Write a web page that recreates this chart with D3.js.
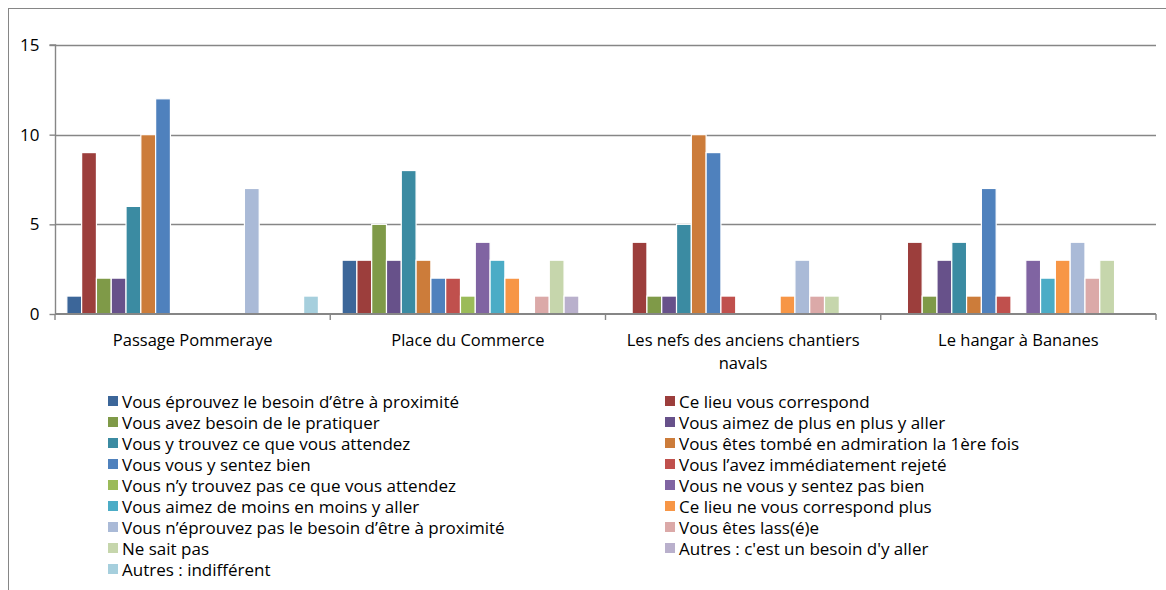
<!DOCTYPE html>
<html><head><meta charset="utf-8">
<script src="https://cdn.jsdelivr.net/npm/d3@7/dist/d3.min.js"></script>
<style>
html,body{margin:0;padding:0;background:#fff;}
svg text{font-family:"Open Sans","Liberation Sans",Arial,sans-serif;fill:#000;}
</style></head>
<body><svg id="c" width="1166" height="590"></svg>
<script>
const categories = ["Passage Pommeraye","Place du Commerce","Les nefs des anciens chantiers navals","Le hangar à Bananes"];
const seriesNames = [
 "Vous éprouvez le besoin d’être à proximité",
 "Ce lieu vous correspond",
 "Vous avez besoin de le pratiquer",
 "Vous aimez de plus en plus y aller",
 "Vous y trouvez ce que vous attendez",
 "Vous êtes tombé en admiration  la 1ère fois",
 "Vous vous y sentez bien",
 "Vous l’avez immédiatement  rejeté",
 "Vous n’y trouvez pas ce que vous attendez",
 "Vous ne vous y sentez pas bien",
 "Vous aimez de moins en moins y aller",
 "Ce lieu ne vous correspond plus",
 "Vous n’éprouvez pas le besoin d’être à proximité",
 "Vous êtes lass(é)e",
 "Ne sait pas",
 "Autres : c'est un besoin d'y aller",
 "Autres : indifférent"
];
const colors = ["#3C6699","#9C3E3C","#7F9A48","#67518A","#3B8BA2","#CC7C3A","#4F81BD","#C0504D","#9BBB59","#8064A2","#4BACC6","#F79646","#AABAD7","#DBA9A8","#C6D6AC","#B9B0CC","#A6CFDD"];
// values per series: [Passage, Place, Nefs, Hangar]
const vPassage = [1,9,2,2,6,10,12,0,0,0,0,0,7,0,0,0,1];
const vPlace   = [3,3,5,3,8,3,2,2,1,4,3,2,0,1,3,1,0];
const vNefs    = [0,4,1,1,5,10,9,1,0,0,0,1,3,1,1,0,0];
const vHangar  = [0,4,1,3,4,1,7,1,0,3,2,3,4,2,3,0,0];
const yTicks = [0,5,10,15];

const groupValues = [vPassage, vPlace, vNefs, vHangar];
const svg = d3.select("#c");
const gray = "#868686";

// outer frame
svg.append("rect").attr("x",8.5).attr("y",8.5).attr("width",1200).attr("height",700)
  .attr("fill","none").attr("stroke",gray).attr("stroke-width",1);

const x0 = d3.scaleBand().domain(categories).range([55,1156]).padding(0);
const x1 = d3.scaleBand().domain(d3.range(seriesNames.length)).range([0,x0.bandwidth()]).paddingInner(0).paddingOuter(0.8);
const y = d3.scaleLinear().domain([0,15]).range([314,45]);

// gridlines
svg.append("g").selectAll("line").data(yTicks.filter(d=>d>0)).join("line")
  .attr("x1",55).attr("x2",1156).attr("y1",d=>Math.round(y(d))+0.5).attr("y2",d=>Math.round(y(d))+0.5)
  .attr("stroke",gray).attr("stroke-width",1.4);

// bars
const gs = svg.append("g").selectAll("g").data(categories).join("g")
  .attr("transform",(d)=>`translate(${x0(d)},0)`);
gs.selectAll("rect").data((d,i)=>groupValues[i].map((v,j)=>({v,j}))).join("rect")
  .filter(d=>d.v>0)
  .attr("x",d=>x1(d.j)).attr("width",x1.bandwidth())
  .attr("y",d=>y(d.v)).attr("height",d=>y(0)-y(d.v))
  .attr("fill",d=>colors[d.j]).attr("stroke","#fff").attr("stroke-width",1.2);

// y axis
const yAxis = d3.axisLeft(y).tickValues(yTicks).tickSize(6).tickPadding(10);
const ya = svg.append("g").attr("transform","translate(55.5,0)").call(yAxis);
ya.select(".domain").attr("stroke",gray).attr("stroke-width",1.4).attr("d","M-6,"+y(15)+"H0V"+y(0));
ya.selectAll(".tick line").attr("stroke",gray).attr("stroke-width",1.4);
ya.selectAll("text").attr("font-size",17).style("font-family","Open Sans, Liberation Sans, Arial, sans-serif").attr("fill","#000");

// x axis
const xa = svg.append("g");
xa.append("line").attr("x1",55).attr("x2",1156).attr("y1",314).attr("y2",314).attr("stroke",gray).attr("stroke-width",2);
const bounds = categories.map(c=>x0(c)).concat([x0.range()[1]]);
xa.selectAll("line.t").data(bounds).join("line").attr("class","t")
  .attr("x1",d=>d).attr("x2",d=>d).attr("y1",314).attr("y2",320).attr("stroke",gray).attr("stroke-width",1.4);

// category labels with wrapping
categories.forEach(c=>{
  const t = svg.append("text").attr("text-anchor","middle").attr("font-size",16.5)
    .attr("x",x0(c)+x0.bandwidth()/2).attr("y",346);
  const words = c.split(" ");
  let line=[];
  let ts = t.append("tspan").attr("x",x0(c)+x0.bandwidth()/2).attr("dy",0);
  words.forEach(w=>{
    line.push(w); ts.text(line.join(" "));
    if (ts.node().getComputedTextLength() > 255 && line.length>1){
      line.pop(); ts.text(line.join(" "));
      line=[w];
      ts = t.append("tspan").attr("x",x0(c)+x0.bandwidth()/2).attr("dy",23).text(w);
    }
  });
});

// legend
const lg = svg.append("g");
seriesNames.forEach((s,i)=>{
  const col = i%2, row = Math.floor(i/2);
  const lx = col===0 ? 108 : 665;
  const ly = 402 + row*21;
  lg.append("rect").attr("x",lx).attr("y",ly-6).attr("width",10).attr("height",10).attr("fill",colors[i]);
  lg.append("text").attr("x",lx+14).attr("y",ly+6).attr("font-size",17).text(s);
});
</script>
</body></html>
